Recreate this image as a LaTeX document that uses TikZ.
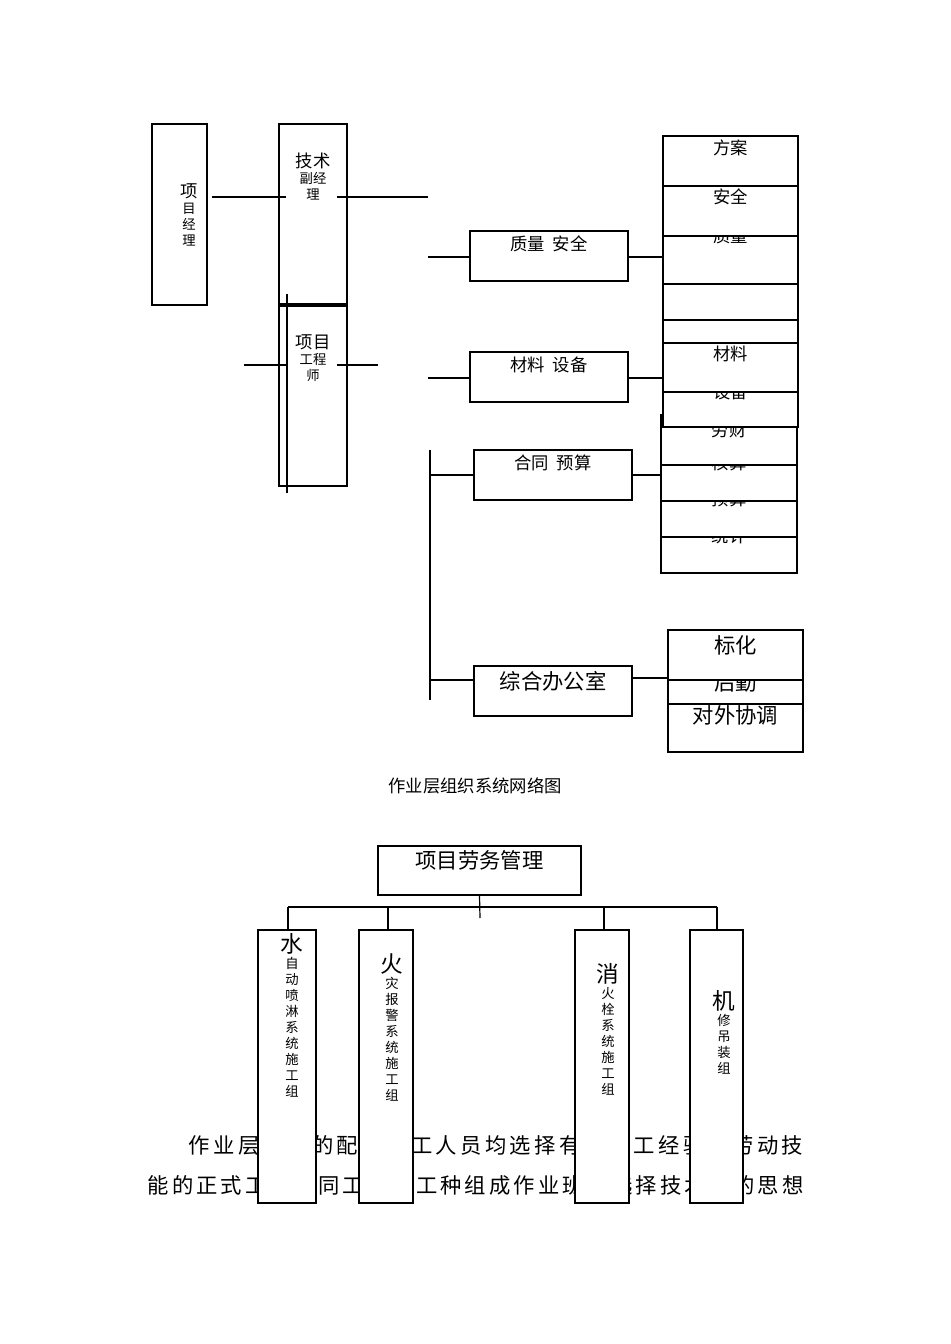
\documentclass[tikz,border=0pt]{standalone}
\usepackage{fontspec}
\setmainfont{Noto Sans CJK SC}
\usetikzlibrary{fit}
\newcommand\sm{\fontsize{13}{18}\selectfont}
\newcommand\bg{\fontsize{16}{20}\selectfont}
\def\spr#1{\ifx#1\relax\else\hfill#1\expandafter\spr\fi}
% name, x1,y1,x2,y2, text, text y, font
\newcommand\bx[8]{%
  \node[draw,fill=white,inner sep=0pt,line width=0.9pt,fit={(#2,#3)(#4,#5)}] (#1) {};
  \node[align=center,inner sep=0pt] (#1t) at ({(#2+#4)/2},#7) {#8#6};}
\begin{document}
\begin{tikzpicture}[x=0.75pt,y=-0.75pt,line width=0.9pt]
\useasboundingbox (0,0) rectangle (950,1344);
% top-left
\bx{pm}{152}{124}{207}{305}{}{0}{\sm}
\node[align=center,inner sep=0pt] (pmt) at (189,215) {\fontsize{13}{18.5}\selectfont 项\\目\\经\\理};
\bx{js}{279}{124}{347}{304}{}{0}{\sm}
\node[align=center,inner sep=0pt] (jst) at (313,177) {\fontsize{13}{25}\selectfont 技术\\副经\\理};
\bx{gc}{279}{306}{347}{486}{}{0}{\sm}
\node[align=center,inner sep=0pt,fill=white] (gct) at (313,358) {\fontsize{13}{25}\selectfont 项目\\工程\\师};
\draw (287,294) -- (287,493);
\draw (212,197) -- (286,197);
\draw (337,197) -- (428,197);
\draw (244,365) -- (287,365);
\draw (337,365) -- (378,365);
% middle column
\draw (428,257) -- (470,257);
\draw (428,378) -- (470,378);
\draw (430,450) -- (430,700);
\draw (430,475) -- (474,475);
\draw (430,680) -- (474,680);
\bx{zl}{470}{231}{628}{281}{质量\ \ 安全}{244}{\sm}
\bx{cl}{470}{352}{628}{402}{材料\ \ 设备}{365}{\sm}
\bx{ht}{474}{450}{632}{500}{合同\ \ 预算}{463}{\sm}
\bx{zh}{474}{666}{632}{716}{综合办公室}{681}{\bg}
\draw (zl.east |- 0,257) -- (663,257);
\draw (cl.east |- 0,378) -- (663,378);
\draw (ht.east |- 0,475) -- (661,475);
\draw (zh.east |- 0,678) -- (668,678);
% right stack (drawn bottom to top)
\bx{tj}{661}{523}{797}{573}{统计}{536}{\sm}
\bx{ys}{661}{487}{797}{537}{预算}{499}{\sm}
\bx{hs}{661}{451}{797}{501}{核算}{463}{\sm}
\draw (797,440) -- (797,463);
\bx{lc}{661}{415}{797}{465}{劳财}{430}{\sm}
\bx{sb}{663}{391}{798}{427}{设备}{392}{\sm}
\bx{cl2}{663}{342}{798}{392}{材料}{354}{\sm}
\bx{xf}{663}{293}{798}{343}{消防}{306}{\sm}
\bx{bw}{663}{270}{798}{320}{保卫}{271}{\sm}
\bx{zl2}{663}{234}{798}{284}{质量}{236}{\sm}
\bx{aq}{663}{186}{798}{236}{安全}{197}{\sm}
\bx{fa}{663}{136}{798}{186}{方案}{148}{\sm}
\bx{dw}{668}{703}{803}{752}{对外协调}{715}{\bg}
\bx{hq}{668}{680}{803}{704}{后勤}{682}{\bg}
\bx{bh}{668}{630}{803}{680}{标化}{645}{\bg}
\node[inner sep=0pt] (cap) at (475,786) {\sm 作业层组织系统网络图};
% paragraph
\node[anchor=west,inner sep=0pt] (p1) at (188,1145) {\makebox[461pt][s]{\bg 作\spr 业层人员的配备施工人员均选择有丰施工经验和劳动技\relax}};
\node[anchor=west,inner sep=0pt] (p2) at (147,1186) {\makebox[492pt][s]{\bg 能\spr 的正式工和合同工，按工种组成作业班组选择技术好的思想\relax}};
% bottom chart
\bx{lw}{378}{846}{581}{895}{项目劳务管理}{860}{\bg}
\draw (lw.south) -- (480,918);
\draw (288,907) -- (717,907);
\bx{b1}{258}{930}{316}{1203}{}{0}{}
\bx{b2}{359}{930}{413}{1203}{}{0}{}
\bx{b3}{575}{930}{629}{1203}{}{0}{}
\bx{b4}{690}{930}{743}{1203}{}{0}{}
\foreach \x/\b in {288/b1,388/b2,604/b3,717/b4} \draw (\x,907) -- (\b.north -| \x,0);
\node[anchor=north,align=center,inner sep=0pt] (b1t) at (292,933) {\fontsize{17}{19.3}\selectfont 水\\自\\动\\喷\\淋\\系\\统\\施\\工\\组};
\node[anchor=north,align=center,inner sep=0pt] (b2t) at (392,953) {\fontsize{17}{19.3}\selectfont 火\\灾\\报\\警\\系\\统\\施\\工\\组};
\node[anchor=north,align=center,inner sep=0pt] (b3t) at (608,963) {\fontsize{17}{19.3}\selectfont 消\\火\\栓\\系\\统\\施\\工\\组};
\node[anchor=north,align=center,inner sep=0pt] (b4t) at (724,990) {\fontsize{17}{24}\selectfont 机\\修\\吊\\装\\组};
\end{tikzpicture}
\end{document}
